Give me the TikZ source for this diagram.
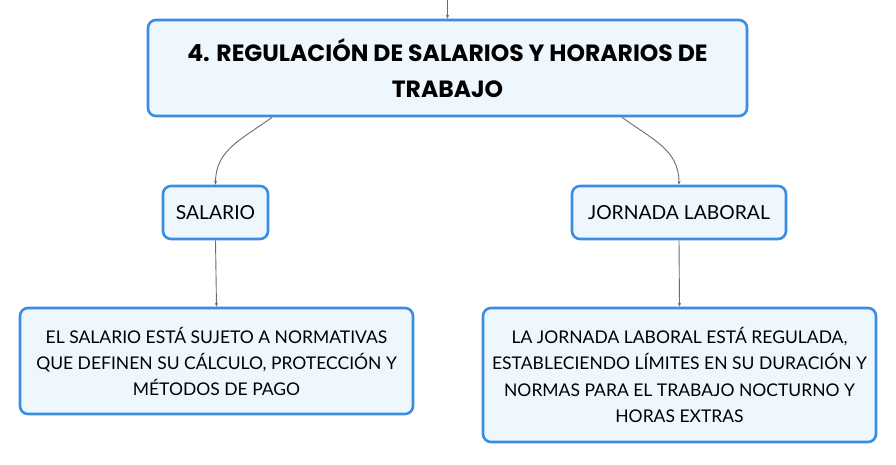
\documentclass[tikz,border=0pt]{standalone}
\usepackage{fontspec}
\setmainfont{Lato}
\newfontfamily\titlefont{Poppins}
\usetikzlibrary{arrows.meta}
\definecolor{bordblue}{HTML}{3A8EDF}
\definecolor{fillblue}{HTML}{EFF7FE}
\definecolor{linegray}{HTML}{6B6B6B}
\tikzset{
  x=1pt,y=-1pt,
  box/.style={draw=bordblue,line width=2.6pt,fill=fillblue,rounded corners=8pt,align=center,inner sep=0pt},
  conn/.style={draw=linegray,line width=0.9pt,-{Stealth[length=4pt,width=3.2pt]}}
}
\begin{document}
\begin{tikzpicture}
\useasboundingbox (0,0) rectangle (896,464);
\node[box,minimum width=599pt,minimum height=96pt,font=\titlefont\bfseries\fontsize{23.5}{36}\selectfont] (top) at (447.5,68) {4. REGULACIÓN DE SALARIOS Y HORARIOS DE\\TRABAJO};
\coordinate (topin) at (447.5,0);
\node[box,minimum width=105pt,minimum height=53pt,font=\fontsize{19.3}{26}\selectfont] (sal) at (215.5,212.5) {SALARIO};
\node[box,minimum width=214pt,minimum height=53pt,font=\fontsize{19.3}{26}\selectfont] (jor) at (679,212.5) {JORNADA LABORAL};
\node[box,minimum width=393pt,minimum height=106pt,font=\fontsize{17.5}{26}\selectfont] (salt) at (216.5,361) {EL SALARIO ESTÁ SUJETO A NORMATIVAS\\QUE DEFINEN SU CÁLCULO, PROTECCIÓN Y\\MÉTODOS DE PAGO};
\node[box,minimum width=393pt,minimum height=134pt,font=\fontsize{17.5}{26.5}\selectfont] (jort) at (679.5,375) {LA JORNADA LABORAL ESTÁ REGULADA,\\ESTABLECIENDO LÍMITES EN SU DURACIÓN Y\\NORMAS PARA EL TRABAJO NOCTURNO Y\\HORAS EXTRAS};
\draw[conn] (topin) -- (top.north);
\draw[conn] ([xshift=-175.5pt]top.south) .. controls +(-30,22) and +(0,-35) .. (sal.north);
\draw[conn] ([xshift=174.5pt]top.south) .. controls +(30,22) and +(0,-35) .. (jor.north);
\draw[conn] (sal.south) -- (salt.north);
\draw[conn] (jor.south) -- (jort.north);
\end{tikzpicture}
\end{document}
